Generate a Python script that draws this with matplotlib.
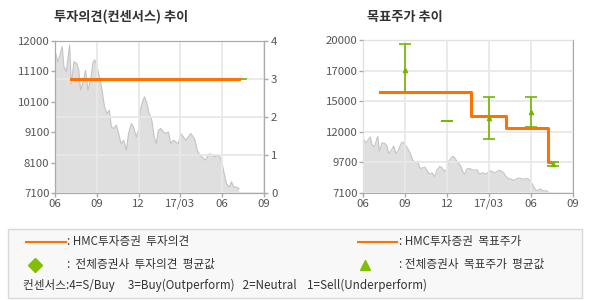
import numpy as np
import matplotlib
matplotlib.use("Agg")
import matplotlib.pyplot as plt
from matplotlib.patches import Rectangle
from matplotlib.lines import Line2D

plt.rcParams['font.family'] = ['Noto Sans CJK KR', 'DejaVu Sans']

# months since 2016-06
month_ticks = [0, 3, 6, 9, 12, 15]
month_labels = ["06", "09", "12", "17/03", "06", "09"]

price_m = [0.05, 0.21, 0.36, 0.52, 0.64, 0.81, 1.05, 1.17, 1.36, 1.55, 1.71, 1.83,
           2.02, 2.19, 2.36, 2.55, 2.74, 2.86, 3.02, 3.19, 3.38, 3.55, 3.74, 3.90,
           4.05, 4.21, 4.40, 4.57, 4.74, 4.93, 5.12, 5.28, 5.48, 5.64, 5.83, 6.00,
           6.12, 6.31, 6.43, 6.59, 6.76, 6.95, 7.12, 7.26, 7.43, 7.59, 7.78, 7.95,
           8.14, 8.31, 8.50, 8.66, 8.85, 9.02, 9.21, 9.38, 9.57, 9.74, 9.93, 10.05,
           10.21, 10.40, 10.57, 10.76, 10.92, 11.11, 11.28, 11.47, 11.64, 11.83, 12.00,
           12.14, 12.31, 12.50, 12.67, 12.83, 13.02, 13.21]
price = [11600, 11330, 11550, 11820, 11170, 11010, 11870, 10630, 11330, 11280, 11060, 10420,
         10690, 11060, 10420, 10740, 11330, 11390, 11170, 10850, 10420, 9880, 9660, 9770,
         9230, 9180, 9290, 9020, 8690, 8800, 8480, 9020, 9340, 9230, 8910, 9130,
         9770, 10090, 10200, 9990, 9660, 9450, 8910, 8690, 9130, 9180, 9070, 9020,
         9070, 8690, 8800, 8750, 8690, 9020, 8910, 8800, 8910, 9020, 8910, 8800,
         8480, 8320, 8260, 8160, 8260, 8370, 8320, 8260, 8320, 8260, 8050,
         7730, 7400, 7290, 7460, 7290, 7290, 7240]

# consensus opinion (HMC)
opinion_m = [1.15, 13.2]
opinion = [3, 3]
avg_opinion_m = [13.2, 13.7]
avg_opinion = [3, 3]

# target price (HMC), step line
target_m = [1.2, 7.7, 10.2, 13.2, 13.35]
target = [15600, 13600, 12600, 9700, 9700]

# all brokers target price: mean, low, high
avg_m = [3.0, 6.0, 9.0, 12.0, 13.55]
avg_mean = [17500, 13150, 13450, 13930, 9550]
avg_low = [15600, 13150, 11630, 12640, 9400]
avg_high = [19640, 13150, 15170, 15170, 9690]

left_ylabels = ["7100", "8100", "9100", "10100", "11100", "12000"]
right_ylabels = ["7100", "9700", "12000", "15000", "17000", "20000"]

ORANGE = "#ff7200"
GREEN = "#72b500"
GRID = "#e8e8e8"
SPINE = "#aaaaaa"
TXT = "#555555"

fig = plt.figure(figsize=(5.9, 3.0), dpi=100)


def style(ax):
    for s in ax.spines.values():
        s.set_color(SPINE)
    ax.tick_params(colors=SPINE, labelcolor=TXT, labelsize=8.2, length=3, width=1, pad=1)
    ax.set_xlim(0, 15)
    ax.set_xticks(month_ticks)
    ax.set_xticklabels(month_labels)
    ax.grid(True, color=GRID, lw=1.3, zorder=1.5)
    ax.set_axisbelow(False)


def draw_price(ax):
    ax.fill_between(price_m, price, 0, color="#dfdfdf", lw=0, zorder=1)
    ax.plot(price_m, price, color="#c4c4c4", lw=0.8, zorder=1.2)


# left: opinion chart
ax1 = fig.add_axes([55 / 590, 1 - 193 / 300, 209 / 590, 152 / 300])
style(ax1)
ax1.set_ylim(7100, 12000)
ax1.set_yticks(np.linspace(7100, 12000, 6))
ax1.set_yticklabels(left_ylabels)
ax1.grid(False, axis="y")
draw_price(ax1)
ax1b = ax1.twinx()
ax1b.set_ylim(0, 4)
ax1b.set_yticks([0, 1, 2, 3, 4])
for s in ax1b.spines.values():
    s.set_color(SPINE)
ax1b.tick_params(colors=SPINE, labelcolor=TXT, labelsize=8.2, length=3, width=1, pad=2)
ax1b.grid(True, axis="y", color=GRID, lw=1.3, zorder=0)
ax1b.plot(avg_opinion_m, avg_opinion, color=GREEN, lw=1.2, zorder=3)
ax1b.plot(opinion_m, opinion, color=ORANGE, lw=2.2, zorder=4)
fig.text(54 / 590, 1 - 17 / 300, "투자의견(컨센서스) 추이", fontsize=9.5, fontweight="bold",
         color="#333333", va="center")

# right: target price chart
ax2 = fig.add_axes([363 / 590, 1 - 193 / 300, 210 / 590, 153 / 300])
style(ax2)
ax2.set_ylim(7100, 20000)
ax2.set_yticks(np.linspace(7100, 20000, 6))
ax2.set_yticklabels(right_ylabels)
draw_price(ax2)
ax2.step(target_m, target, where="post", color=ORANGE, lw=2.2, zorder=4)
mean = np.array(avg_mean)
ax2.errorbar(avg_m, avg_mean,
             yerr=[mean - np.array(avg_low), np.array(avg_high) - mean],
             fmt="none", ecolor=GREEN, elinewidth=1.2, capsize=4.5, capthick=1.2, zorder=3)
ax2.plot(avg_m[:1] + avg_m[2:], avg_mean[:1] + avg_mean[2:], ls="none", marker="^",
         ms=3, color=GREEN, zorder=5)
fig.text(367 / 590, 1 - 17 / 300, "목표주가 추이", fontsize=9.5, fontweight="bold",
         color="#333333", va="center")

# legend box
fig.patches.append(Rectangle((8 / 590, 1 - 298 / 300), 574 / 590, 69 / 300,
                             transform=fig.transFigure, facecolor="#f8f8f8",
                             edgecolor="#d8d8d8", lw=1))
lt = dict(fontsize=8.4, color="#333333", va="center")
fig.lines.append(Line2D([26 / 590, 66 / 590], [1 - 241.5 / 300] * 2, color=ORANGE, lw=1.5,
                        transform=fig.transFigure))
fig.text(67 / 590, 1 - 241.5 / 300, ": HMC투자증권  투자의견", **lt)
fig.lines.append(Line2D([358 / 590, 397 / 590], [1 - 241.5 / 300] * 2, color=ORANGE, lw=1.5,
                        transform=fig.transFigure))
fig.text(399 / 590, 1 - 241.5 / 300, ": HMC투자증권  목표주가", **lt)
fig.lines.append(Line2D([35 / 590], [1 - 264.5 / 300], marker="D", ms=7, color="#80c000",
                        ls="none", transform=fig.transFigure))
fig.text(67 / 590, 1 - 264.5 / 300, ":  전체증권사  투자의견  평균값", **lt)
fig.lines.append(Line2D([365 / 590], [1 - 264.5 / 300], marker="^", ms=7, color="#80c000",
                        ls="none", transform=fig.transFigure))
fig.text(399 / 590, 1 - 264.5 / 300, ": 전체증권사  목표주가  평균값", **lt)
fig.text(23 / 590, 1 - 285 / 300,
         "컨센서스:4=S/Buy     3=Buy(Outperform)   2=Neutral    1=Sell(Underperform)", **lt)

fig.savefig("out.png", dpi=100)
